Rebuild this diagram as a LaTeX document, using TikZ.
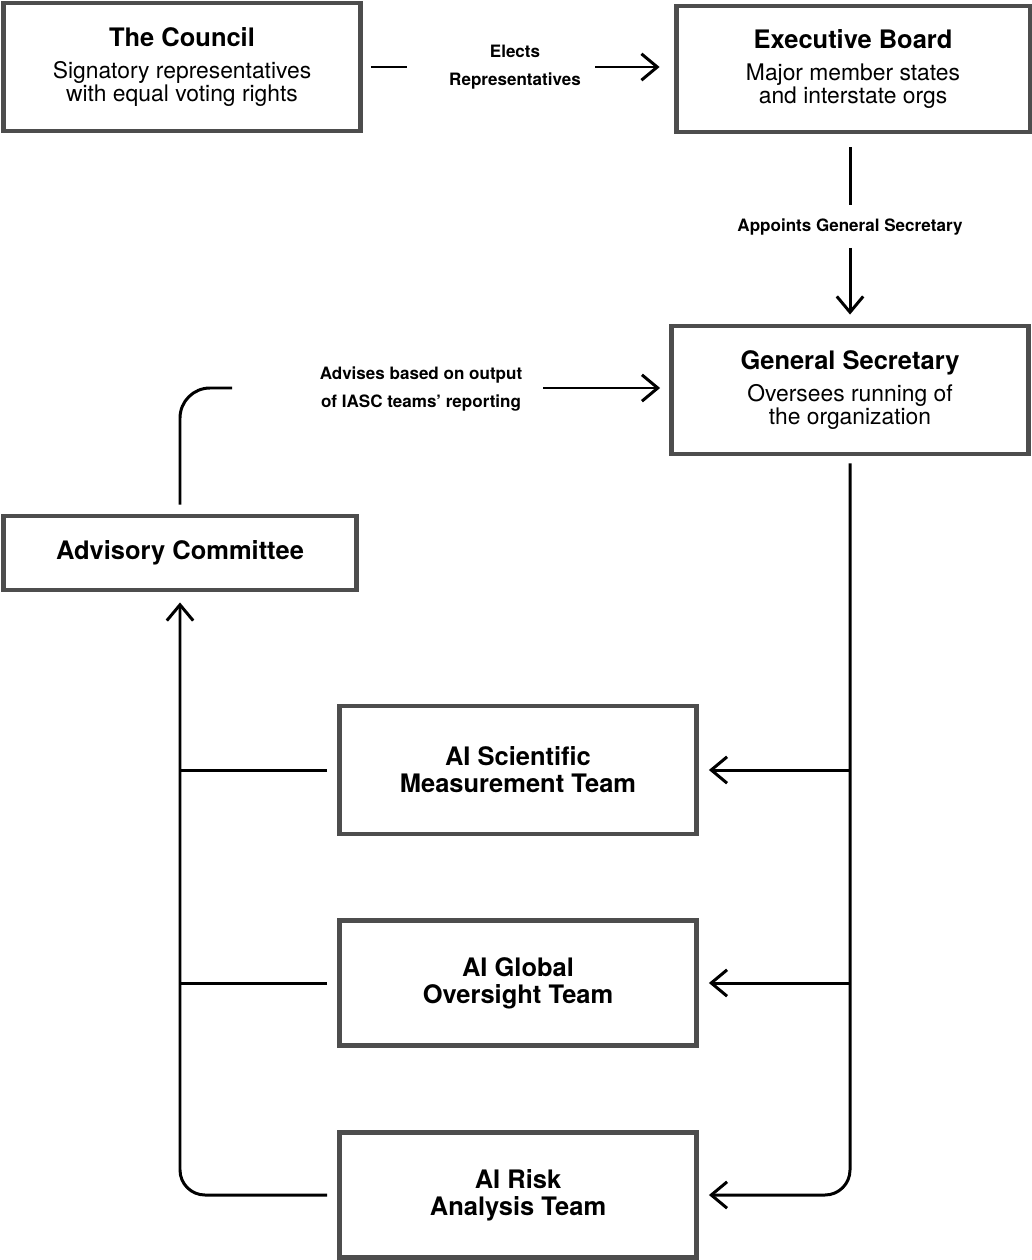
\documentclass[tikz,border=0pt]{standalone}
\usepackage{fontspec}
\setmainfont{TeX Gyre Heros}
\usetikzlibrary{arrows.meta}
\definecolor{boxgray}{HTML}{4D4D4D}
\tikzset{
  orgbox/.style={draw=boxgray, line width=2.8pt, fill=white, inner sep=0pt,
    minimum width=7.14cm, minimum height=2.56cm, align=center,
    font=\fontsize{13}{13}\selectfont},
  teambox/.style={orgbox, font=\bfseries\fontsize{14.5}{15.3}\selectfont},
  conn/.style={line width=1.7pt, -{Straight Barb[length=9pt, width=15pt]}},
  link/.style={line width=1.7pt},
  lbl/.style={align=center, inner sep=0pt,
    font=\bfseries\fontsize{9.7}{16}\selectfont}
}
\newcommand{\boxhead}[1]{{\bfseries\fontsize{14.5}{17}\selectfont #1}\\[5pt]}
\begin{document}
\begin{tikzpicture}[x=0.02cm, y=-0.02cm]
    \useasboundingbox (0,0) rectangle (1031,1260);
    \node[orgbox] (council) at (182,67) {\boxhead{The Council}Signatory representatives\\with equal voting rights};
    \node[orgbox, minimum width=7.08cm, minimum height=2.52cm] (exec) at (853,69) {\boxhead{Executive Board}Major member states\\and interstate orgs};
    \node[orgbox] (gs) at (850,390) {\boxhead{General Secretary}Oversees running of\\the organization};
    \node[teambox, minimum width=7.06cm, minimum height=1.48cm] (adv) at (180,553) {Advisory Committee};
    \node[teambox] (sci) at (518,770) {AI Scientific\\Measurement Team};
    \node[teambox, minimum height=2.5cm] (glob) at (518,983) {AI Global\\Oversight Team};
    \node[teambox, minimum height=2.5cm] (risk) at (518,1195) {AI Risk\\Analysis Team};
    % labels on the connectors
    \node[lbl] (elects) at (515,67) {Elects\\Representatives};
    \node[lbl] (appoints) at (850,227) {Appoints General Secretary};
    \node[lbl] (advises) at (421,389) {Advises based on output\\of IASC teams' reporting};
    \coordinate (e1) at (407,67);
    \coordinate (e2) at (595,67);
    \coordinate (a1) at (850,205);
    \coordinate (a2) at (850,248);
    \coordinate (v1) at (232,388);
    \coordinate (v2) at (543,388);
    % top row
    \draw[link, shorten <=0.16cm] (council.east) -- (e1);
    \draw[conn, shorten >=0.28cm] (e2) -- (e2 -| exec.west);
    \draw[link, shorten <=0.26cm] (exec.south -| a1) -- (a1);
    \draw[conn, shorten >=0.18cm] (a2) -- (a2 |- gs.north);
    % advisory line
    \draw[link, rounded corners=0.6cm, shorten <=0.18cm] (adv.north) |- (v1);
    \draw[conn, shorten >=0.18cm] (v2) -- (v2 -| gs.west);
    % general secretary to teams
    \draw[conn, rounded corners=0.5cm, shorten <=0.14cm, shorten >=0.2cm] (gs.south) |- (risk.east);
    \draw[conn, shorten >=0.2cm] (gs.south |- sci.east) -- (sci.east);
    \draw[conn, shorten >=0.2cm] (gs.south |- glob.east) -- (glob.east);
    % teams to advisory committee
    \draw[conn, rounded corners=0.5cm, shorten <=0.2cm, shorten >=0.2cm] (risk.west) -| (adv.south);
    \draw[link, shorten <=0.2cm] (sci.west) -- (sci.west -| adv.south);
    \draw[link, shorten <=0.2cm] (glob.west) -- (glob.west -| adv.south);
\end{tikzpicture}
\end{document}
